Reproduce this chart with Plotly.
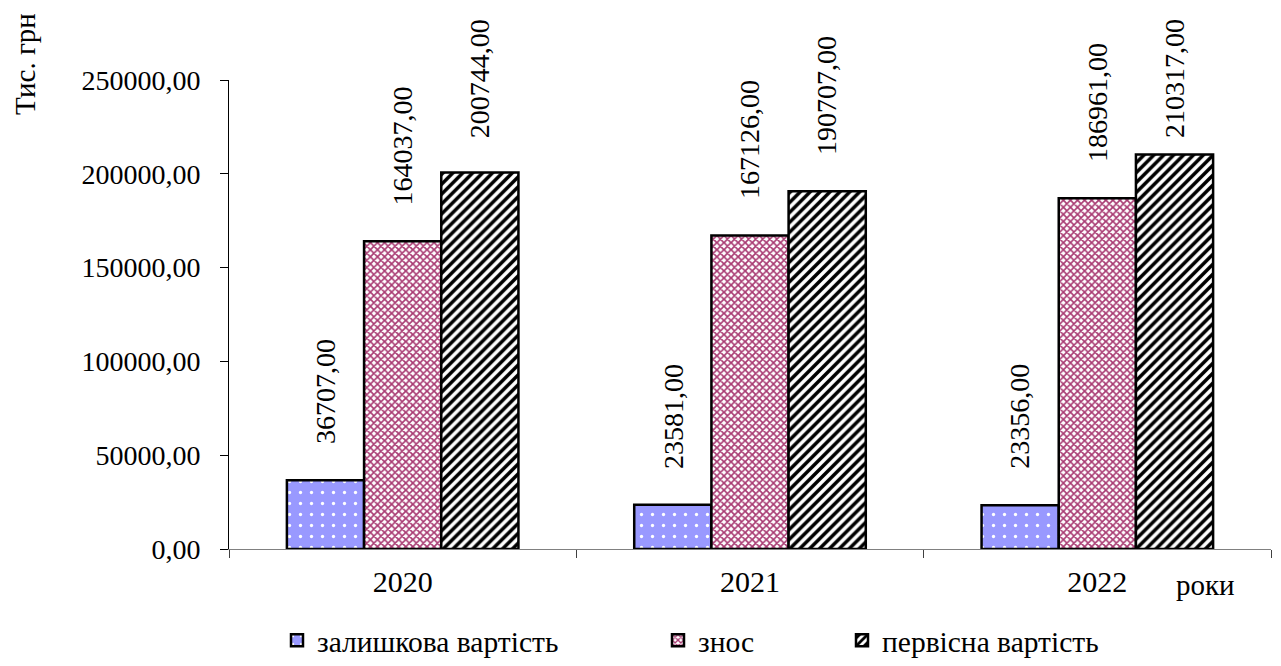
import plotly.graph_objects as go

# Fixed-asset values, thousand UAH
years = ["2020", "2021", "2022"]
residual_value = [36707.00, 23581.00, 23356.00]
depreciation = [164037.00, 167126.00, 186961.00]
original_cost = [200744.00, 190707.00, 210317.00]

series_names = ["залишкова вартість", "знос", "первісна вартість"]
y_ticks = [0, 50000, 100000, 150000, 200000, 250000]

FONT = "Times New Roman, Liberation Serif, serif"

W, H = 1281, 666
M_L, M_R, M_T, M_B = 229, 10, 80, 117
Y_MAX = 250000


def fmt(v):
    return f"{v:.2f}".replace(".", ",")


series = [residual_value, depreciation, original_cost]
patterns = [
    dict(shape=".", fgcolor="white", bgcolor="#9999ff", size=11, solidity=0.07, fillmode="replace"),
    dict(shape="x", fgcolor="#a83a72", bgcolor="white", size=5, solidity=0.55, fillmode="replace"),
    dict(shape="/", fgcolor="black", bgcolor="white", size=7, solidity=0.5, fillmode="replace"),
]
legend_ids = ["legend", "legend2", "legend3"]

fig = go.Figure()
for name, vals, pat, lg in zip(series_names, series, patterns, legend_ids):
    fig.add_trace(go.Bar(
        x=years, y=vals, name=name,
        marker=dict(color=pat["bgcolor"], pattern=pat,
                    line=dict(color="black", width=2.5)),
        legend=lg,
    ))

# Value labels above each bar, rotated; pulled down when they would
# run past the top of the page
plot_h = H - M_T - M_B
label_len = 126
bar_w = (1 - 1 / 3) / 3
for k, vals in enumerate(series):
    for i, v in enumerate(vals):
        top_px = M_T + plot_h * (1 - v / Y_MAX)
        shift = min(34, top_px - 14 - label_len)
        fig.add_annotation(
            x=i + (k - 1) * bar_w, y=v, xref="x", yref="y",
            text=fmt(v), textangle=-90, showarrow=False,
            xanchor="center", yanchor="bottom", yshift=shift,
            font=dict(family=FONT, size=28, color="black"),
        )

fig.add_annotation(
    x=0, y=1, xref="paper", yref="paper", xshift=-204, yshift=16,
    text="Тис. грн", textangle=-90, showarrow=False,
    xanchor="center", yanchor="middle",
    font=dict(family=FONT, size=29, color="black"),
)
fig.add_annotation(
    x=0.937, y=0, xref="paper", yref="paper", yshift=-36,
    text="роки", showarrow=False, xanchor="center", yanchor="middle",
    font=dict(family=FONT, size=29, color="black"),
)

legend_common = dict(
    orientation="h", yanchor="middle", y=-0.195, xanchor="left",
    xref="container", bgcolor="rgba(0,0,0,0)", itemwidth=30,
    font=dict(family=FONT, size=29.5, color="black"),
)
fig.update_layout(
    width=W, height=H,
    margin=dict(l=M_L, r=M_R, t=M_T, b=M_B, autoexpand=False),
    paper_bgcolor="white", plot_bgcolor="white",
    bargap=1 / 3, bargroupgap=0, barmode="group",
    showlegend=True,
    legend=dict(x=277 / W, **legend_common),
    legend2=dict(x=658 / W, **legend_common),
    legend3=dict(x=842 / W, **legend_common),
    xaxis=dict(
        type="category", range=[-0.5, 2.5],
        showline=True, linecolor="#808080", linewidth=1,
        ticks="outside", tickson="boundaries", ticklen=8, tickcolor="#404040",
        tickfont=dict(family=FONT, size=30, color="black"),
        ticklabelstandoff=6,
        showgrid=False, zeroline=False,
    ),
    yaxis=dict(
        range=[0, Y_MAX], tickvals=y_ticks,
        ticktext=[fmt(t) for t in y_ticks],
        showline=True, linecolor="black", linewidth=1,
        ticks="outside", ticklen=8, tickcolor="black",
        tickfont=dict(family=FONT, size=28, color="black"),
        ticklabelstandoff=14,
        showgrid=False, zeroline=False,
    ),
)

fig.write_html("out.html")
